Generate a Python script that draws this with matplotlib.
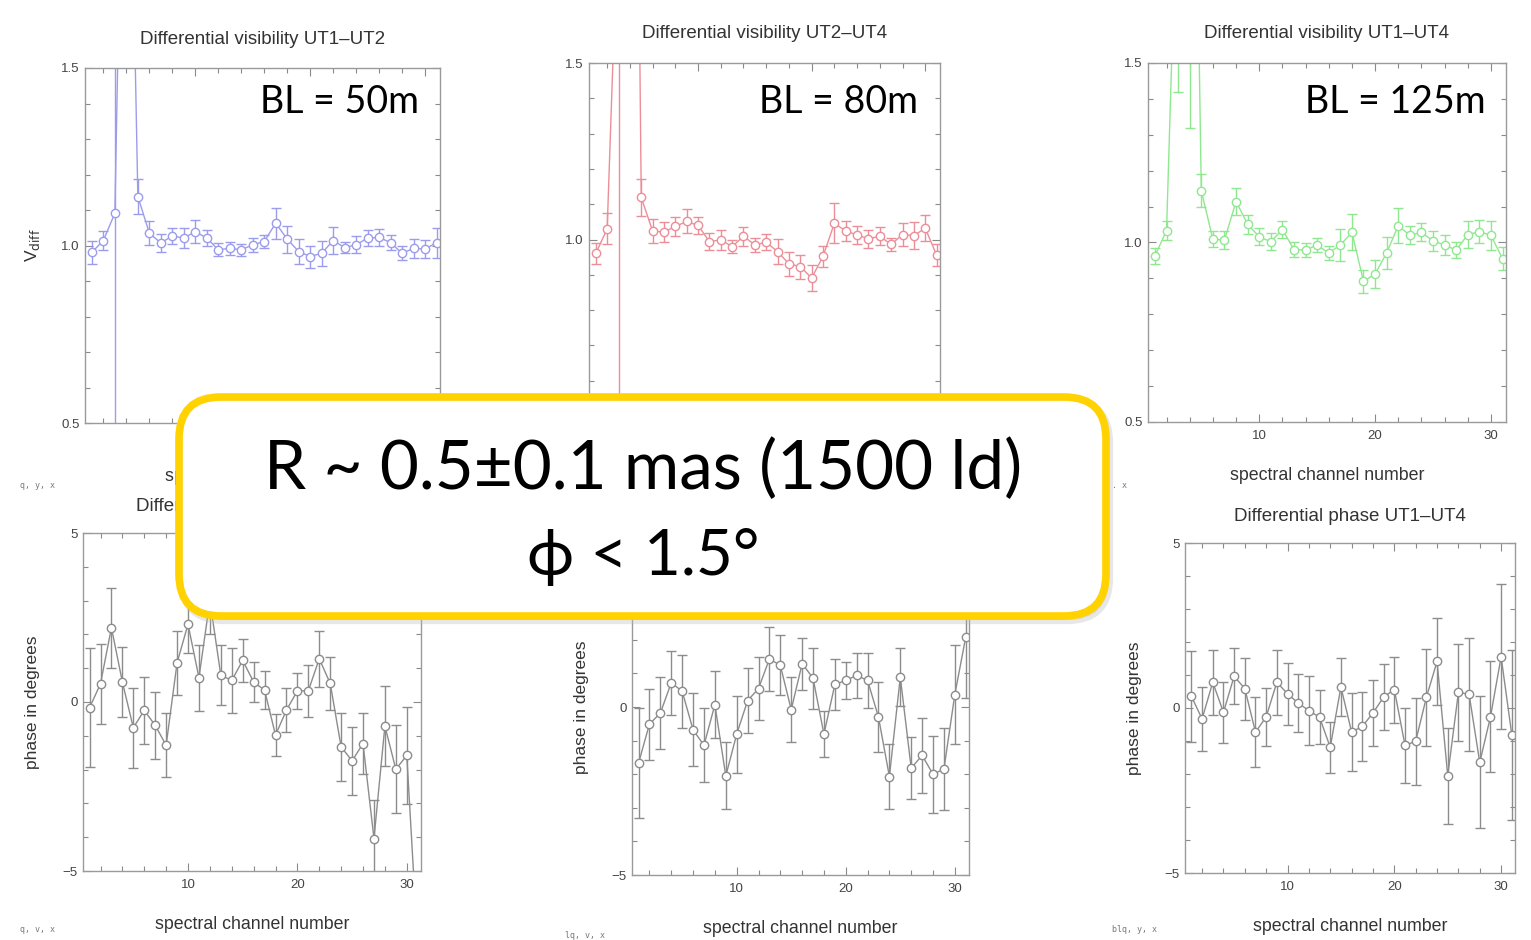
import matplotlib
matplotlib.use('Agg')
import matplotlib.pyplot as plt
from matplotlib.patches import FancyBboxPatch
import numpy as np

plt.rcParams['font.family'] = ['Liberation Sans', 'DejaVu Sans']

W, H = 1531, 940

channels = list(range(1, 32))

# differential visibility (top row)
vis_ut12 = [0.981, 1.014, 1.091, 2.8, 1.138, 1.035, 1.007, 1.027, 1.021, 1.039, 1.021,
            0.988, 0.992, 0.988, 1.002, 1.011, 1.063, 1.018, 0.983, 0.969, 0.978, 1.014,
            0.994, 1.002, 1.021, 1.023, 1.008, 0.978, 0.992, 0.990, 1.008]
vis_ut12_err = [0.033, 0.026, 0.7, 0.5, 0.048, 0.034, 0.025, 0.022, 0.027, 0.033, 0.023,
                0.018, 0.019, 0.017, 0.019, 0.019, 0.044, 0.038, 0.034, 0.031, 0.035, 0.039,
                0.016, 0.024, 0.022, 0.024, 0.022, 0.020, 0.026, 0.026, 0.042]

vis_ut24 = [0.961, 1.030, 1.97, 4.3, 1.119, 1.024, 1.021, 1.037, 1.051, 1.040, 0.994,
            0.999, 0.980, 1.009, 0.985, 0.992, 0.966, 0.931, 0.923, 0.891, 0.952, 1.046,
            1.024, 1.013, 1.002, 1.009, 0.986, 1.014, 1.011, 1.032, 0.956]
vis_ut24_err = [0.030, 0.044, 1.6, 0.8, 0.052, 0.035, 0.028, 0.028, 0.034, 0.024, 0.025,
                0.029, 0.018, 0.026, 0.020, 0.023, 0.036, 0.035, 0.034, 0.036, 0.030, 0.057,
                0.027, 0.025, 0.025, 0.025, 0.018, 0.032, 0.038, 0.036, 0.031]

vis_ut14 = [0.963, 1.033, 2.1, 3.2, 1.144, 1.009, 1.007, 1.114, 1.051, 1.016, 1.002,
            1.036, 0.980, 0.979, 0.993, 0.971, 0.993, 1.028, 0.892, 0.912, 0.971, 1.047,
            1.020, 1.028, 1.005, 0.993, 0.979, 1.022, 1.030, 1.020, 0.955]
vis_ut14_err = [0.022, 0.027, 0.68, 1.88, 0.046, 0.022, 0.024, 0.038, 0.026, 0.023, 0.024,
                0.024, 0.020, 0.020, 0.019, 0.019, 0.045, 0.050, 0.032, 0.038, 0.044, 0.048,
                0.025, 0.025, 0.028, 0.028, 0.022, 0.038, 0.032, 0.041, 0.032]

# differential phase in degrees (bottom row)
phi_ut12 = [-0.17, 0.54, 2.20, 0.59, -0.76, -0.25, -0.69, -1.28, 1.16, 2.30, 0.72,
            3.0, 0.79, 0.64, 1.23, 0.59, 0.35, -0.98, -0.24, 0.33, 0.33, 1.28,
            0.55, -1.33, -1.74, -1.23, -4.04, -0.71, -1.99, -1.58, -7.2]
phi_ut12_err = [1.76, 1.19, 1.18, 1.04, 1.18, 1.00, 1.00, 0.95, 0.94, 0.85, 0.98,
                1.0, 0.89, 0.97, 0.64, 0.60, 0.56, 0.62, 0.66, 0.53, 0.77, 0.83,
                0.79, 1.00, 1.01, 0.91, 1.14, 1.18, 1.30, 1.44, 1.5]

phi_ut24 = [-1.67, -0.51, -0.18, 0.72, 0.47, -0.68, -1.14, 0.07, -2.05, -0.81, 0.19,
            0.55, 1.43, 1.24, -0.08, 1.29, 0.86, -0.81, 0.67, 0.79, 0.94, 0.79,
            -0.30, -2.07, 0.89, -1.82, -1.44, -2.00, -1.85, 0.37, 2.08]
phi_ut24_err = [1.64, 1.06, 1.06, 0.96, 1.09, 1.09, 1.10, 0.99, 1.00, 1.14, 0.96,
                0.94, 0.96, 0.89, 0.97, 0.77, 0.91, 0.69, 0.77, 0.56, 0.67, 0.82,
                1.03, 0.98, 0.87, 0.92, 1.11, 1.14, 1.22, 1.48, 1.8]

phi_ut14 = [0.35, -0.33, 0.78, -0.13, 0.96, 0.59, -0.73, -0.27, 0.78, 0.43, 0.15,
            -0.08, -0.28, -1.19, 0.64, -0.73, -0.56, -0.15, 0.33, 0.56, -1.13, -1.01,
            0.32, 1.41, -2.05, 0.47, 0.42, -1.65, -0.27, 1.55, -0.81]
phi_ut14_err = [1.38, 0.96, 0.98, 0.92, 0.85, 0.94, 1.05, 0.88, 0.99, 0.94, 0.88,
                1.04, 0.82, 0.77, 0.87, 1.19, 1.04, 1.01, 1.00, 1.00, 1.13, 1.31,
                1.48, 1.31, 1.45, 1.48, 1.71, 2.00, 1.68, 2.20, 2.58]

baselines = ['BL = 50m', 'BL = 80m', 'BL = 125m']


def px_rect(l, t, r, b):
    return [l / W, 1 - b / H, (r - l) / W, (b - t) / H]


def ax_setting(ax, kind):
    for s in ax.spines.values():
        s.set_color('#9a9a9a')
        s.set_linewidth(1.0)
    ax.set_xlim(0.4, 31.3)
    ax.set_xticks([10, 20, 30])
    ax.set_xticks(range(2, 32, 2), minor=True)
    if kind == 'vis':
        ax.set_ylim(0.5, 1.5)
        ax.set_yticks([0.5, 1.0, 1.5])
        ax.set_yticklabels(['0.5', '1.0', '1.5'])
        ax.set_yticks(np.arange(0.6, 1.45, 0.1), minor=True)
    else:
        ax.set_ylim(-5, 5)
        ax.set_yticks([-5, 0, 5])
        ax.set_yticks(range(-4, 5), minor=True)
    ax.tick_params(which='both', direction='in', top=True, right=True, color='#8a8a8a', width=0.8)
    ax.tick_params(which='major', length=6, labelsize=9.5, labelcolor='#444444')
    ax.tick_params(axis='x', which='major', pad=6)
    ax.tick_params(axis='y', which='major', pad=4)
    ax.tick_params(which='minor', length=3.5)


def panel(rect, vals, errs, color, title, kind, tpad, ylab=None, ypad=16):
    ax = fig.add_axes(px_rect(*rect))
    ax_setting(ax, kind)
    ax.errorbar(channels, vals, yerr=errs, fmt='-o', color=color, mfc='white', mec=color,
                ms=6, mew=1, lw=1, elinewidth=1, capsize=3.5, capthick=1)
    ax.set_title(title, fontsize=13.5, color='#333333', pad=tpad)
    ax.set_xlabel('spectral channel number', fontsize=12.8, color='#333333', labelpad=18)
    if ylab:
        ax.set_ylabel(ylab, fontsize=12.5, color='#333333', labelpad=ypad)
    return ax


fig = plt.figure(figsize=(W / 100, H / 100), dpi=100)

blue, red, green, grey = '#9c9cec', '#ec8e98', '#8fe88f', '#8c8c8c'

panel((85, 68, 440, 423), vis_ut12, vis_ut12_err, blue, 'Differential visibility UT1\u2013UT2', 'vis', 17,
      r'V$_{\mathrm{diff}}$', ypad=14)
panel((589, 63, 940, 416), vis_ut24, vis_ut24_err, red, 'Differential visibility UT2\u2013UT4', 'vis', 18)
panel((1148, 63, 1506, 422), vis_ut14, vis_ut14_err, green, 'Differential visibility UT1\u2013UT4', 'vis', 18)
panel((83, 533, 421, 871), phi_ut12, phi_ut12_err, grey, 'Differential phase UT1\u2013UT2', 'phi', 16,
      'phase in degrees')
panel((632, 539, 969, 875), phi_ut24, phi_ut24_err, grey, 'Differential phase UT2\u2013UT4', 'phi', 16,
      'phase in degrees')
panel((1185, 543, 1515, 873), phi_ut14, phi_ut14_err, grey, 'Differential phase UT1\u2013UT4', 'phi', 16,
      'phase in degrees')

# overlay in pixel coordinates for the slide annotations
ov = fig.add_axes([0, 0, 1, 1], zorder=10)
ov.set_xlim(0, W)
ov.set_ylim(H, 0)
ov.axis('off')
ov.patch.set_visible(False)

big = ['Lato', 'Noto Sans', 'DejaVu Sans']
for txt, x in zip(baselines, [419, 918, 1486]):
    ov.text(x, 102, txt, ha='right', va='center', fontsize=27, family=big, color='black')

for txt, x, y in [('q, y, x', 20, 485), ('. x', 1112, 485), ('q, v, x', 20, 930),
                  ('lq, v, x', 565, 935), ('blq, y, x', 1112, 930)]:
    ov.text(x, y, txt, ha='left', va='center', fontsize=6, family='DejaVu Sans Mono', color='#777777')

shadow = FancyBboxPatch((182, 401), 927, 219, boxstyle='round,pad=0,rounding_size=42',
                        fc='#bbbbbb', ec='#bbbbbb', lw=6, alpha=0.35)
ov.add_patch(shadow)
box = FancyBboxPatch((179, 397), 927, 219, boxstyle='round,pad=0,rounding_size=42',
                     fc='white', ec='#FFD200', lw=5.5)
ov.add_patch(box)
ov.text(643, 470, 'R ~ 0.5\u00b10.1 mas (1500 ld)', ha='center', va='center', fontsize=48.5, family=big)
ov.text(643, 557, '\u03d5 < 1.5\u00b0', ha='center', va='center', fontsize=46, family=big)

fig.savefig('out.png', dpi=100)
